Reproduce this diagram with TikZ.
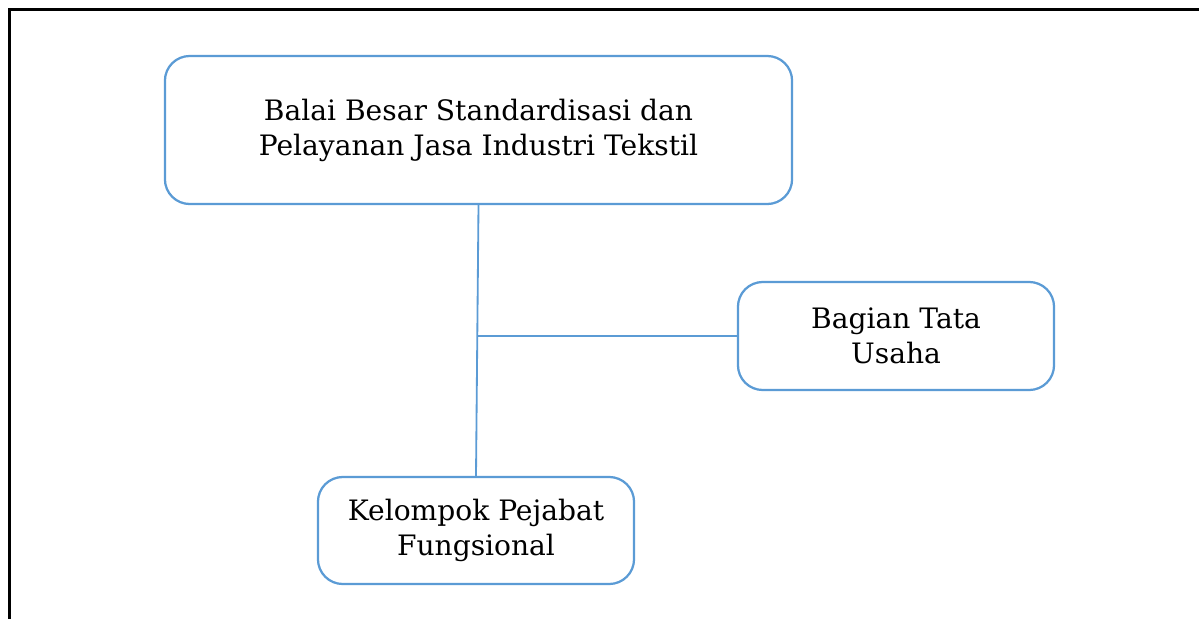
\documentclass[tikz,border=0pt]{standalone}
\usepackage{fontspec}
\setmainfont{DejaVu Serif}
\usepackage{tikz}
\usetikzlibrary{calc}
\definecolor{bagan}{RGB}{91,155,213}
\tikzstyle{unit} = [draw=bagan,line width=1.6pt,rounded corners=0.62cm,align=center,font=\fontsize{20}{24.9}\selectfont,inner sep=0pt]
\tikzstyle{garis} = [draw=bagan,line width=1.3pt]

\begin{document}
\begin{tikzpicture}[x=0.025cm,y=-0.025cm]

% Frame and page

    \useasboundingbox (0,0) rectangle (1199,619);
    \draw[line width=2.4pt] (9.5,9.5) rectangle (1230,660);

% Units

    \node[unit,minimum width=15.675cm,minimum height=3.7cm] at (478.5,130) (balai) {Balai Besar Standardisasi dan\\Pelayanan Jasa Industri Tekstil};
    \node[unit,minimum width=7.9cm,minimum height=2.7cm] at (896,336) (tu) {Bagian Tata\\Usaha};
    \node[unit,minimum width=7.9cm,minimum height=2.675cm] at (476,530.5) (kpf) {Kelompok Pejabat\\Fungsional};

% Lines

    \coordinate (cab) at ($(balai.south)!0.4835!(kpf.north)$);
    \draw[garis] (balai.south) -- (kpf.north);
    \draw[garis] (cab) -- (tu.west);

\end{tikzpicture}
\end{document}
